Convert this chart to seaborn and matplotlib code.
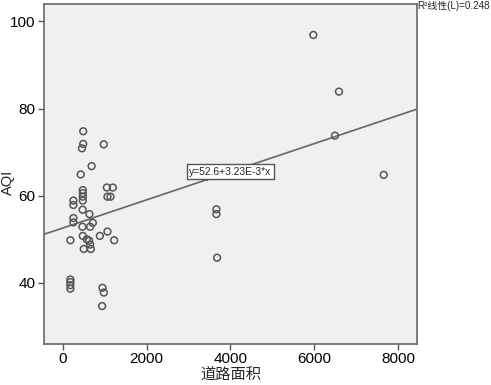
import matplotlib
matplotlib.use('Agg')
import numpy as np
import pandas as pd
import seaborn as sns
import matplotlib.pyplot as plt

# values
road_area = [490, 490, 460, 980, 690, 430,
             480, 480, 480, 480,
             1054, 1197, 1068, 1140,
             256, 256, 476, 638, 256, 256,
             471, 655, 719, 184, 480, 576, 631, 655,
             504, 671, 887, 1068, 1228,
             184, 184, 184, 184, 949, 982, 941,
             3665, 3665, 3682, 5976, 6588, 6492, 7656]
aqi = [74.8, 71.9, 70.9, 71.8, 66.8, 64.9,
       61.3, 60.6, 59.8, 58.9,
       61.9, 61.9, 59.8, 59.8,
       58.9, 57.9, 56.8, 55.8, 54.9, 53.9,
       52.9, 52.9, 53.8, 49.8, 50.8, 50.0, 49.7, 48.8,
       47.8, 47.8, 50.8, 51.8, 49.8,
       40.8, 40.2, 39.5, 38.7, 38.9, 37.8, 34.7,
       56.9, 55.8, 45.8, 96.9, 83.9, 73.8, 64.8]

intercept = 52.6
slope = 3.23e-3
r2_text = 'R²线性(L)=0.248'
eq_text = 'y=52.6+3.23E-3*x'

df = pd.DataFrame({'道路面积': road_area, 'AQI': aqi})

sns.set_style('ticks')
plt.rcParams['font.family'] = ['Liberation Sans', 'Noto Sans CJK SC', 'DejaVu Sans']

fig = plt.figure(figsize=(4.91, 3.85), dpi=100)
ax = fig.add_axes([0.0896, 0.1065, 0.7594, 0.8831])
ax.set_facecolor('#f0f0f0')

sns.scatterplot(data=df, x='道路面积', y='AQI', ax=ax, s=24,
                facecolor='none', edgecolor='#555555', linewidth=1.1, zorder=3)

ax.set_xlim(-445, 8445)
ax.set_ylim(26, 104)
ax.axline((0, intercept), slope=slope, color='#666666', linewidth=1.2, zorder=2)

# equation label with a small tick to the line
ax.plot([3443, 3443], [63.7, 64.6], color='#666666', linewidth=1)
ax.text(4000, 65.5, eq_text, fontsize=7.4, ha='center', va='center', zorder=4,
        bbox=dict(boxstyle='square,pad=0.25', facecolor='white', edgecolor='#555555', linewidth=1))

ax.set_xticks([0, 2000, 4000, 6000, 8000])
ax.set_yticks([40, 60, 80, 100])
ax.tick_params(labelsize=11, colors='#555555', labelcolor='black', length=4, width=1, pad=2)
for sp in ax.spines.values():
    sp.set_visible(True)
    sp.set_color('#666666')
    sp.set_linewidth(1.2)
ax.set_xlabel('道路面积', fontsize=11, labelpad=1)
ax.set_ylabel('AQI', fontsize=10.5, va='center')
ax.yaxis.set_label_coords(-0.097, 0.474)

fig.text(0.849, 0.984, r2_text, fontsize=7.1, ha='left', va='center')

fig.savefig('out.png', dpi=100)
